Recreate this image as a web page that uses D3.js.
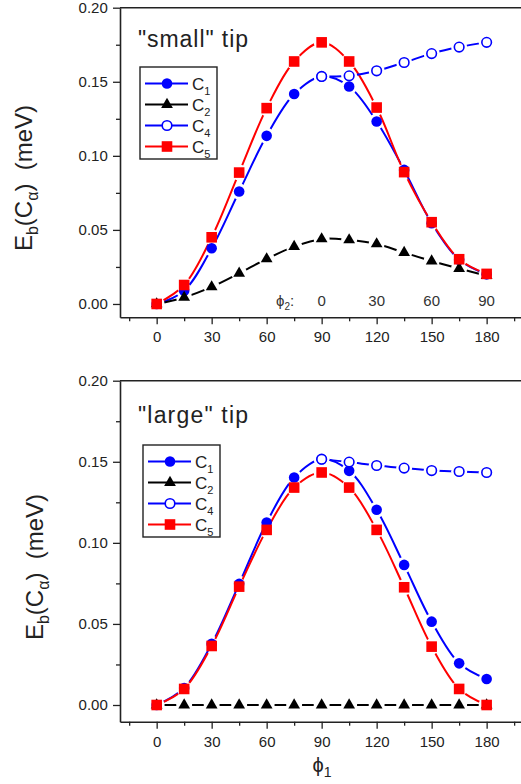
<!DOCTYPE html>
<html><head><meta charset="utf-8">
<script src="https://cdn.jsdelivr.net/npm/d3@7"></script>
<style>body{margin:0;background:#fff}svg{display:block;font-family:"Liberation Sans",Arial,sans-serif}</style>
</head><body>
<script>
// ---- data ----
const phi1 = [0,15,30,45,60,75,90,105,120,135,150,165,180];
const phi4 = [90,105,120,135,150,165,180];
const xMajor = [0,30,60,90,120,150,180];
const xMinor = [-15,15,45,75,105,135,165,195];
const yMajor = [0,0.05,0.10,0.15,0.20];
const yMinor = [0.025,0.075,0.125,0.175];
const phi2Labels = ["0","30","60","90"];
const phi2At = [90,120,150,180];

const smallC1 = [0,0.009,0.0376,0.0759,0.1135,0.1417,0.1536,0.1468,0.1232,0.0905,0.0545,0.0298,0.0200];
const smallC2 = [0,0.0044,0.0115,0.0207,0.0304,0.0387,0.0439,0.0432,0.0405,0.0347,0.0290,0.0239,0.0191];
const smallC4 = [0.1536,0.1540,0.1574,0.1630,0.1690,0.1734,0.1766];
const smallC5 = [0,0.0128,0.0450,0.0887,0.1322,0.1637,0.1766,0.1637,0.1326,0.0890,0.0552,0.0302,0.0203];

const largeC1 = [0,0.0105,0.0377,0.0747,0.1125,0.1403,0.1516,0.1444,0.1204,0.0864,0.0514,0.0257,0.0160];
const largeC2 = [0,0,0,0,0,0,0,0,0,0,0,0,0];
const largeC4 = [0.1516,0.1498,0.1477,0.1461,0.1446,0.1440,0.1434];
const largeC5 = [0,0.0099,0.0364,0.0730,0.1080,0.1341,0.1434,0.1341,0.1080,0.0726,0.0360,0.0099,0.0];

const W = 521, H = 784;
const svg = d3.select("body").append("svg").attr("width", W).attr("height", H);
const defs = svg.append("defs");
const x = d3.scaleLinear().domain([-20, 200]).range([120, 523.3]);

let maskId = 0;
function drawPanel(o) {
  const y = d3.scaleLinear().domain([o.ymin, 0.2]).range([o.bottom, o.top]);
  const g = svg.append("g");
  g.append("line").attr("x1", 120).attr("x2", W).attr("y1", o.top).attr("y2", o.top)
    .attr("stroke", "#222").attr("stroke-width", 1.6);
  const ax = g.append("g").attr("transform", `translate(0,${o.bottom})`)
    .call(d3.axisBottom(x).tickValues(xMajor).tickSize(7).tickSizeOuter(0).tickFormat(d3.format("d")));
  g.append("g").attr("transform", `translate(0,${o.bottom})`)
    .call(d3.axisBottom(x).tickValues(xMinor).tickSize(4).tickSizeOuter(0).tickFormat(""))
    .select(".domain").remove();
  const ay = g.append("g").attr("transform", `translate(120,0)`)
    .call(d3.axisLeft(y).tickValues(yMajor).tickSize(7).tickSizeOuter(0).tickFormat(d3.format(".2f")));
  g.append("g").attr("transform", `translate(120,0)`)
    .call(d3.axisLeft(y).tickValues(yMinor).tickSize(4).tickSizeOuter(0).tickFormat(""))
    .select(".domain").remove();
  g.selectAll(".domain").attr("stroke", "#222").attr("stroke-width", 1.6);
  g.selectAll(".tick line").attr("stroke", "#222").attr("stroke-width", 1.3);
  ax.selectAll("text").attr("font-size", 15).attr("fill", "#222").attr("dy", "1.0em")
    .attr("font-family", "Liberation Sans, Arial, sans-serif");
  ay.selectAll("text").attr("font-size", 15).attr("fill", "#222").attr("dx", "-0.15em")
    .attr("font-family", "Liberation Sans, Arial, sans-serif");

  const series = [
    {xs: phi1, ys: o.c1, color: "#0000ff", sym: "circle"},
    {xs: phi1, ys: o.c2, color: "#000000", sym: "triangle"},
    {xs: phi1, ys: o.c5, color: "#ff0000", sym: "square"},
    {xs: phi4, ys: o.c4, color: "#0000ff", sym: "open"}
  ];
  const line = d3.line().x(d => x(d[0])).y(d => y(d[1])).curve(d3.curveCatmullRom.alpha(0.5));
  series.forEach(s => {
    const pts = s.xs.map((v, i) => [v, s.ys[i]]);
    const id = "m" + (maskId++);
    const m = defs.append("mask").attr("id", id).attr("maskUnits", "userSpaceOnUse")
      .attr("x", 0).attr("y", 0).attr("width", W).attr("height", H);
    m.append("rect").attr("width", W).attr("height", H).attr("fill", "#fff");
    m.selectAll("circle").data(pts).join("circle")
      .attr("cx", d => x(d[0])).attr("cy", d => y(d[1])).attr("r", 8).attr("fill", "#000");
    g.append("path").datum(pts).attr("d", line).attr("fill", "none")
      .attr("stroke", s.color).attr("stroke-width", 2).attr("mask", `url(#${id})`);
  });
  series.forEach(s => {
    const pts = s.xs.map((v, i) => [v, s.ys[i]]);
    drawMarkers(g, pts.map(d => [x(d[0]), y(d[1])]), s.sym, s.color);
  });

  g.append("text").attr("x", 138).attr("y", o.titleY).attr("font-size", 23).attr("fill", "#222")
    .attr("textLength", 110).attr("lengthAdjust", "spacing").text(o.title);

  const lg = g.append("g").attr("transform", `translate(${o.legX},${o.legY})`);
  lg.append("rect").attr("x", 0).attr("y", 0).attr("width", 77).attr("height", 92)
    .attr("fill", "#fff").attr("stroke", "#222").attr("stroke-width", 1.4);
  const names = ["1", "2", "4", "5"];
  const legSeries = [series[0], series[1], series[3], series[2]];
  legSeries.forEach((s, i) => {
    const cy = 16.5 + i * 21;
    lg.append("line").attr("x1", 5).attr("x2", 48).attr("y1", cy).attr("y2", cy)
      .attr("stroke", s.color).attr("stroke-width", 2);
    drawMarkers(lg, [[27, cy]], s.sym, s.color);
    const t = lg.append("text").attr("x", 52).attr("y", cy + 6).attr("font-size", 17).attr("fill", "#222");
    t.append("tspan").text("C");
    t.append("tspan").attr("font-size", 11).attr("dy", 5).text(names[i]);
  });

  const yt = g.append("text").attr("transform", `translate(${o.ytX},${o.ytY}) rotate(-90)`)
    .attr("text-anchor", "middle").attr("font-size", 24).attr("fill", "#222").style("white-space", "pre");
  yt.append("tspan").text("E");
  yt.append("tspan").attr("font-size", 16).attr("dy", 6).text("b");
  yt.append("tspan").attr("dy", -6).text("(C");
  yt.append("tspan").attr("font-size", 16).attr("dy", 6).text("α");
  yt.append("tspan").attr("dy", -6).text(")  (meV)");
  return {g, y};
}

function drawMarkers(g, pts, sym, color) {
  if (sym === "circle") {
    g.selectAll(null).data(pts).join("circle").attr("cx", d => d[0]).attr("cy", d => d[1])
      .attr("r", 5.3).attr("fill", color);
  } else if (sym === "open") {
    g.selectAll(null).data(pts).join("circle").attr("cx", d => d[0]).attr("cy", d => d[1])
      .attr("r", 4.8).attr("fill", "#fff").attr("stroke", color).attr("stroke-width", 1.6);
  } else if (sym === "square") {
    g.selectAll(null).data(pts).join("rect").attr("x", d => d[0] - 5.3).attr("y", d => d[1] - 5.3)
      .attr("width", 10.6).attr("height", 10.6).attr("fill", color);
  } else {
    const tri = d3.symbol().type(d3.symbolTriangle).size(60);
    g.selectAll(null).data(pts).join("path").attr("d", tri)
      .attr("transform", d => `translate(${d[0]},${d[1]})`).attr("fill", color);
  }
}

const panelTop = drawPanel({ymin: -0.009, top: 7.7, bottom: 317.3, c1: smallC1, c2: smallC2, c4: smallC4, c5: smallC5,
  title: "\"small\" tip", titleY: 47, legX: 140, legY: 67, ytX: 32, ytY: 178});
const panelBot = drawPanel({ymin: -0.0103, top: 380.7, bottom: 721.7, c1: largeC1, c2: largeC2, c4: largeC4, c5: largeC5,
  title: "\"large\" tip", titleY: 423, legX: 143, legY: 445, ytX: 43, ytY: 567});

const pa = panelTop.g.append("text").attr("x", 276).attr("y", 306).attr("font-size", 15).attr("fill", "#333");
pa.append("tspan").text("ϕ");
pa.append("tspan").attr("font-size", 10).attr("dy", 4).text("2");
pa.append("tspan").attr("dy", -4).text(":");
panelTop.g.selectAll(null).data(phi2Labels).join("text")
  .attr("x", (d, i) => x(phi2At[i])).attr("y", 306).attr("text-anchor", "middle")
  .attr("font-size", 15).attr("fill", "#333").text(d => d);

const xt = svg.append("text").attr("x", 322).attr("y", 772).attr("text-anchor", "middle")
  .attr("font-size", 20).attr("fill", "#222");
xt.append("tspan").text("ϕ");
xt.append("tspan").attr("font-size", 14).attr("dy", 5).text("1");
</script>
</body></html>
